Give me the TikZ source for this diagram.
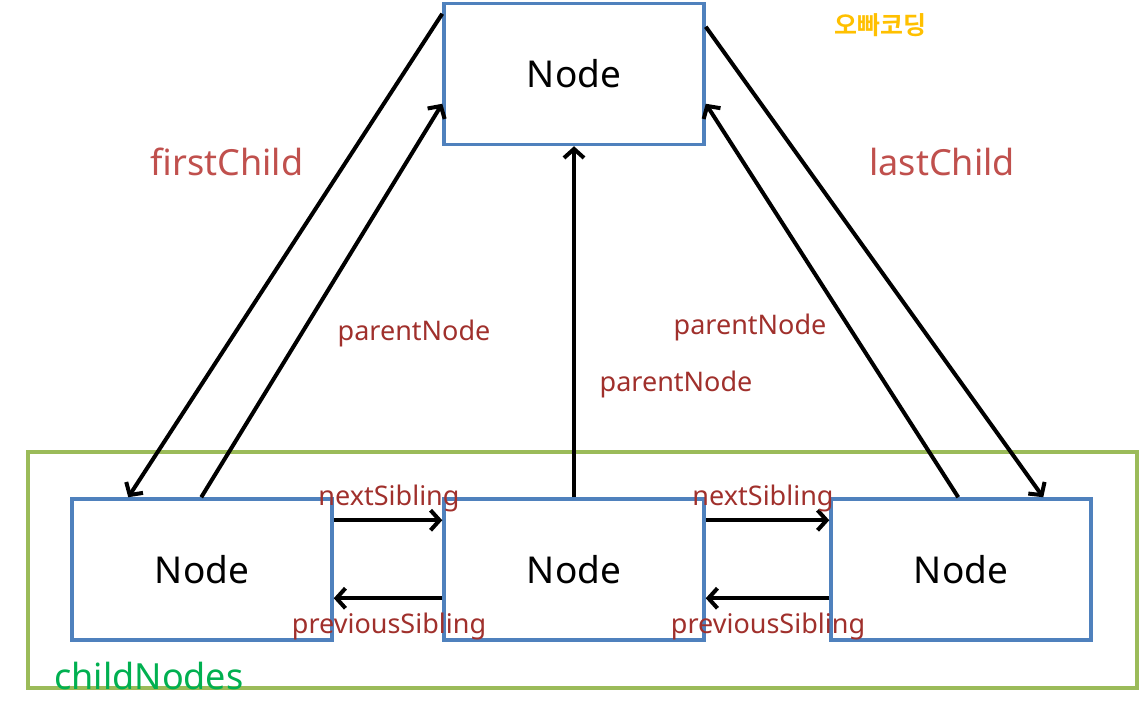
\documentclass[tikz,border=0pt]{standalone}
\usepackage{fontspec}
\setmainfont{Noto Sans}
\newfontfamily\kofont{Noto Sans CJK KR}[UprightFont={* Bold},BoldFont={* Black}]
\usetikzlibrary{arrows.meta,calc}
\definecolor{boxblue}{HTML}{4F81BD}
\definecolor{grpgreen}{HTML}{9BBB59}
\definecolor{lblred}{HTML}{C0504D}
\definecolor{lbldark}{RGB}{160,48,44}
\definecolor{txtgreen}{HTML}{00B050}
\definecolor{logoyellow}{HTML}{FFC000}
\tikzset{
  dombox/.style={draw=boxblue, line width=3.5pt, fill=white, minimum width=260pt, minimum height=141pt, inner sep=0pt, font=\fontsize{37}{44}\selectfont},
  grpbox/.style={draw=grpgreen, line width=3.5pt, minimum width=1109pt, minimum height=236pt, inner sep=0pt},
  link/.style={draw=black, line width=4pt, -{Straight Barb[length=9pt,width=20pt,line width=4pt]}},
  biglbl/.style={text=lblred, font=\fontsize{36}{42}\selectfont, inner sep=0pt},
  smalllbl/.style={text=lbldark, font=\fontsize{27}{32}\selectfont, inner sep=0pt},
}
\begin{document}
\begin{tikzpicture}[x=1pt,y=-1pt]
\useasboundingbox (0,0) rectangle (1141,708);
% group
\node[grpbox] (grp) at (582.5,570) {};
% boxes
\node[dombox] (top) at (574,74) {Node};
\node[dombox] (left) at (202,569.5) {Node};
\node[dombox] (mid) at (574,569.5) {Node};
\node[dombox] (right) at (961,569.5) {Node};
% connectors
\draw[link] ($(top.north west)+(0,12)$) -- ($(left.north west)+(58,0)$);
\draw[link] ($(left.north west)+(131,0)$) -- ($(top.north west)+(0,102)$);
\draw[link] (mid.north) -- (top.south);
\draw[link] ($(right.north west)+(129,0)$) -- ($(top.north east)+(0,102)$);
\draw[link] ($(top.north east)+(0,25)$) -- ($(right.north west)+(214,0)$);
\draw[link] ($(left.north east)+(0,23)$) -- ($(mid.north west)+(0,23)$);
\draw[link] ($(mid.north east)+(0,23)$) -- ($(right.north west)+(0,23)$);
\draw[link] ($(mid.north west)+(0,101)$) -- ($(left.north east)+(0,101)$);
\draw[link] ($(right.north west)+(0,101)$) -- ($(mid.north east)+(0,101)$);
% labels
\node[biglbl] (lfc) at (227,162) {firstChild};
\node[biglbl] (llc) at (942,162) {lastChild};
\node[smalllbl] (lp1) at (414,333) {parentNode};
\node[smalllbl] (lp2) at (750,327) {parentNode};
\node[smalllbl] (lp3) at (676,384) {parentNode};
\node[smalllbl] (ln1) at (389,498) {nextSibling};
\node[smalllbl] (ln2) at (763,498) {nextSibling};
\node[smalllbl] (lps1) at (389,626) {previousSibling};
\node[smalllbl] (lps2) at (768,626) {previousSibling};
\node[text=txtgreen, font=\fontsize{36}{42}\selectfont, inner sep=0pt] (lcn) at (149,676) {childNodes};
\node[text=logoyellow, font=\kofont\fontsize{25}{30}\selectfont, inner sep=0pt] (logo) at (880,25) {오빠코딩};
\end{tikzpicture}
\end{document}
